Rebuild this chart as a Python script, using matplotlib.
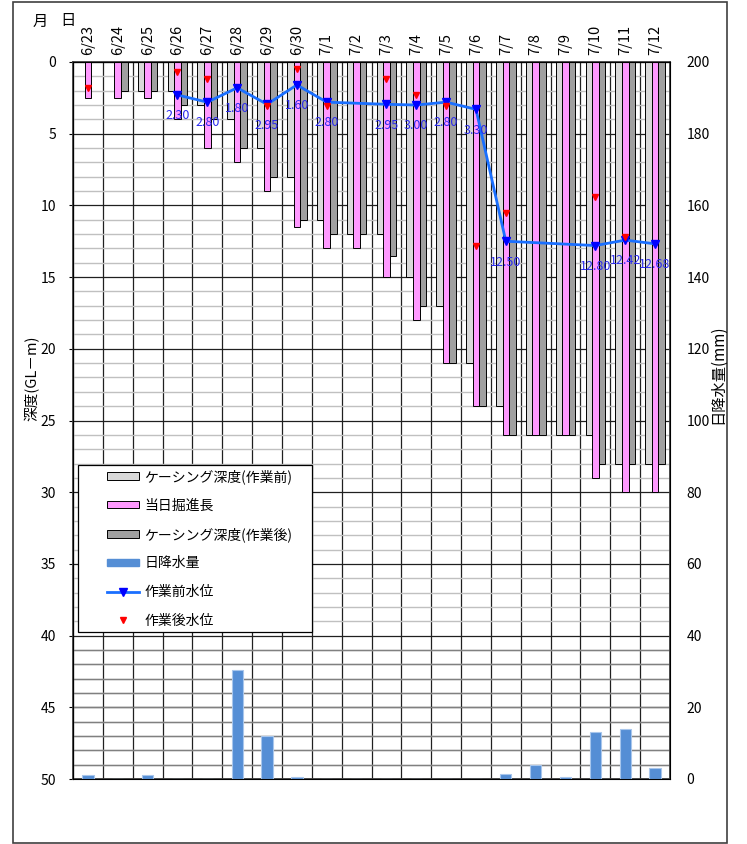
import matplotlib.pyplot as plt
import numpy as np
from matplotlib.patches import Patch, Rectangle
from matplotlib.lines import Line2D

plt.rcParams['font.family'] = ['Noto Sans CJK JP', 'DejaVu Sans']

# data
dates = ['6/23', '6/24', '6/25', '6/26', '6/27', '6/28', '6/29', '6/30', '7/1', '7/2',
         '7/3', '7/4', '7/5', '7/6', '7/7', '7/8', '7/9', '7/10', '7/11', '7/12']
casing_before = [0, 0, 2, 2, 3, 4, 6, 8, 11, 12, 12, 15, 17, 21, 24, 26, 26, 26, 28, 28]
drilled = [2.5, 2.5, 2.5, 4, 6, 7, 9, 11.5, 13, 13, 15, 18, 21, 24, 26, 26, 26, 29, 30, 30]
casing_after = [0, 2, 2, 3, 4, 6, 8, 11, 12, 12, 13.5, 17, 21, 24, 26, 26, 26, 28, 28, 28]
water_before = [None, None, None, 2.30, 2.80, 1.80, 2.95, 1.60, 2.80, None,
                2.95, 3.00, 2.80, 3.30, 12.50, None, None, 12.80, 12.42, 12.68]
water_after = [1.8, None, None, 0.7, 1.2, None, 3.1, 0.5, 3.1, None,
               1.2, 2.3, 3.1, 12.8, 10.5, None, None, 9.4, 12.2, None]
rain = [1, 0, 1, 0, 0, 30.5, 12, 0.5, 0, 0, 0, 0, 0, 0, 1.5, 4, 0.5, 13, 14, 3]

x = np.arange(len(dates))

fig = plt.figure(figsize=(7.47, 8.44), dpi=100)
# outer frame
fig.patches.append(Rectangle((13 / 747, 1 / 844), 714 / 747, 841 / 844, transform=fig.transFigure,
                             fill=False, edgecolor='#404040', linewidth=1.2))

ax = fig.add_axes([73 / 747, 65 / 844, 597 / 747, 717 / 844])
ax.set_xlim(-0.5, len(dates) - 0.5)
ax.set_ylim(50, 0)

# grid
ax.set_axisbelow(True)
ax.set_yticks(np.arange(0, 51, 5))
ax.set_yticks(np.arange(0, 51, 1), minor=True)
ax.set_xticks(x)
ax.set_xticks(np.arange(-0.5, len(dates), 1), minor=True)
ax.grid(which='major', axis='y', color='#202020', linewidth=0.9)
ax.grid(which='minor', axis='y', color='#c0c0c0', linewidth=1.0)
ax.grid(which='minor', axis='x', color='#202020', linewidth=0.9)
ax.hlines(np.arange(41, 50), -0.5, len(dates) - 0.5, color='#808080', linewidth=1.0, zorder=0.6)

w = 0.22
ax.bar(x - w, casing_before, w, color='#d9d9d9', edgecolor='black', linewidth=0.7, zorder=2)
ax.bar(x, drilled, w, color='#ff99ff', edgecolor='black', linewidth=0.7, zorder=2)
ax.bar(x + w, casing_after, w, color='#a0a0a0', edgecolor='black', linewidth=0.7, zorder=2)

# water levels
wb_x = [i for i, v in enumerate(water_before) if v is not None]
wb_y = [v for v in water_before if v is not None]
ax.plot(wb_x, wb_y, color='#1a6fff', linewidth=2, marker='v', markersize=6,
        markerfacecolor='#0000ff', markeredgecolor='#0000ff', zorder=4)
for xi, yi in zip(wb_x, wb_y):
    ax.annotate(f'{yi:.2f}', (xi, yi), xytext=(0, -15), textcoords='offset points',
                ha='center', va='center', color='#2a2aee', fontsize=9, zorder=5)

wa_x = [i for i, v in enumerate(water_after) if v is not None]
wa_y = [v for v in water_after if v is not None]
ax.plot(wa_x, wa_y, linestyle='none', marker='v', markersize=5, color='red', zorder=4)

ax.xaxis.tick_top()
ax.set_xticklabels(dates, rotation=90, fontsize=10.5)
ax.tick_params(axis='x', which='both', length=0, pad=5)
ax.tick_params(axis='y', which='major', length=3, pad=9, labelsize=10)
ax.tick_params(axis='y', which='minor', length=0)
for s in ax.spines.values():
    s.set_color('#404040')
    s.set_linewidth(1.3)

# rainfall on secondary axis
ax2 = ax.twinx()
ax2.set_ylim(0, 200)
ax2.set_yticks(np.arange(0, 201, 20))
ax2.tick_params(axis='y', length=0, pad=12, labelsize=10)
ax2.bar(x, rain, 0.38, color='#558ed5', edgecolor='#a8c6ec', linewidth=0.8, zorder=2)

fig.text(32 / 747, 1 - 378 / 844, '深度(GL－m)', rotation=90, ha='center', va='center', fontsize=10.5)
fig.text(718 / 747, 1 - 374 / 844, '日降水量(mm)', rotation=90, ha='center', va='center', fontsize=11)
fig.text(40 / 747, 1 - 21 / 844, '月', ha='center', va='center', fontsize=11)
fig.text(68 / 747, 1 - 21 / 844, '日', ha='center', va='center', fontsize=11)

# legend box drawn separately so the entries can sit indented like the original
ax2.add_patch(Rectangle(((78 - 73) / 597, (779 - 632) / 717), 234 / 597, 167 / 717,
                        transform=ax2.transAxes, facecolor='white', edgecolor='black',
                        linewidth=0.9, zorder=9))
handles = [
    Patch(facecolor='#d9d9d9', edgecolor='black', linewidth=0.7),
    Patch(facecolor='#ff99ff', edgecolor='black', linewidth=0.7),
    Patch(facecolor='#a0a0a0', edgecolor='black', linewidth=0.7),
    Patch(facecolor='#558ed5', edgecolor='#558ed5'),
    Line2D([], [], color='#1a6fff', linewidth=2, marker='v', markersize=6,
           markerfacecolor='#0000ff', markeredgecolor='#0000ff'),
    Line2D([], [], linestyle='none', marker='v', markersize=5, color='red'),
]
labels = ['ケーシング深度(作業前)', '当日掘進長', 'ケーシング深度(作業後)', '日降水量', '作業前水位', '作業後水位']
leg = ax2.legend(handles, labels, loc='upper left',
                 bbox_to_anchor=((107 - 73) / 597, (779 - 469) / 717),
                 fontsize=10, frameon=False, handlelength=2.3, handleheight=0.5,
                 labelspacing=1.05, borderpad=0, borderaxespad=0, handletextpad=0.4)
leg.set_zorder(10)

fig.savefig('out.png', dpi=100)
